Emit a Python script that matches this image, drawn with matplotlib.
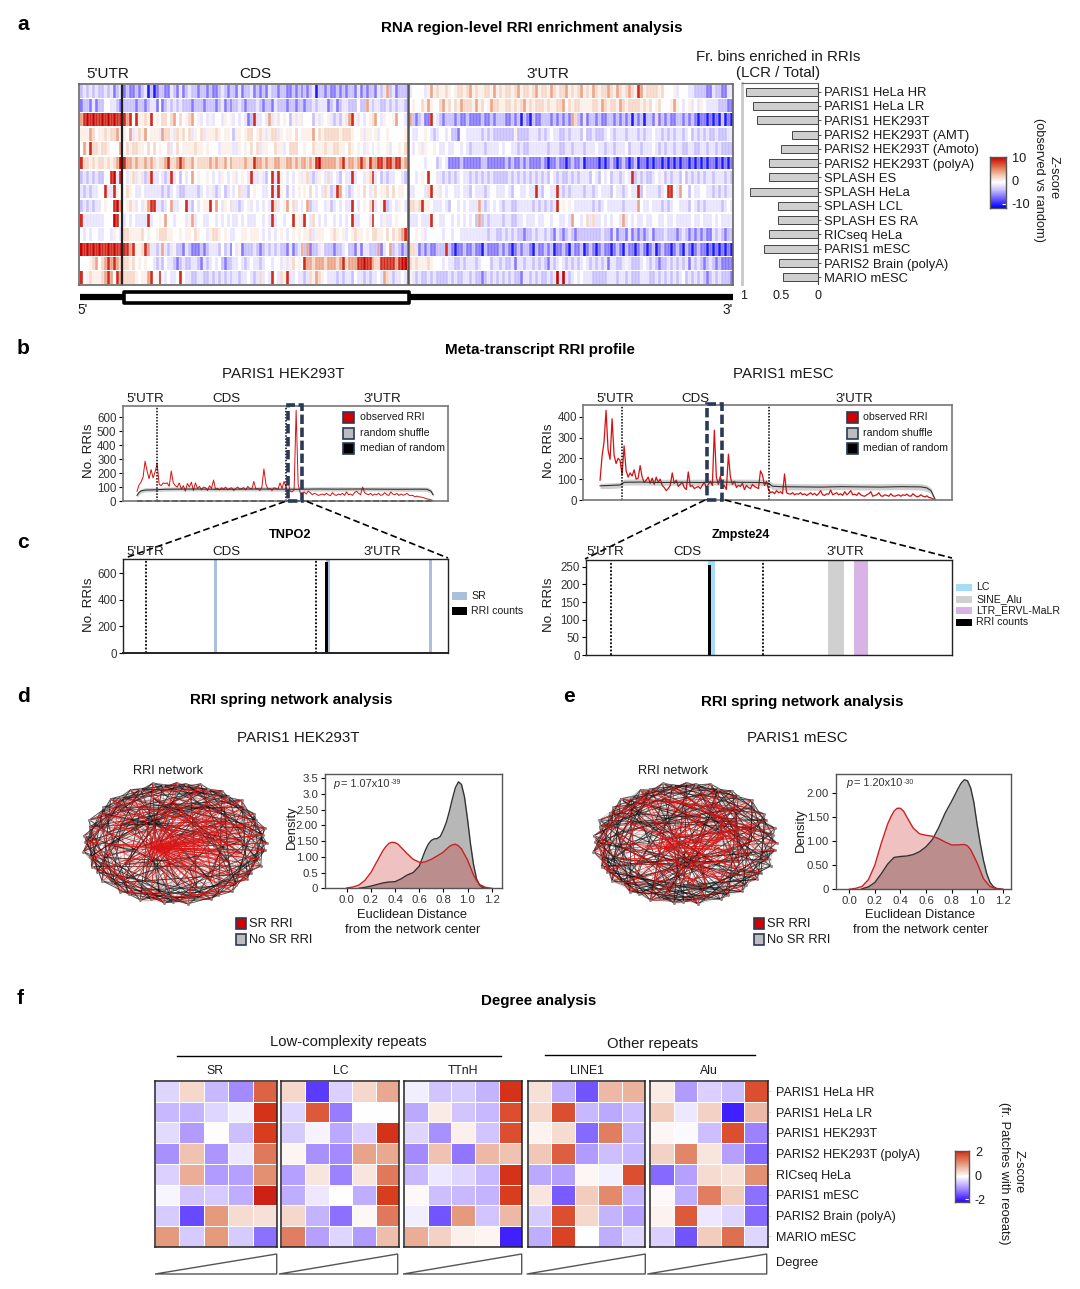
import numpy as np
import matplotlib
matplotlib.use("Agg")
import matplotlib.pyplot as plt
from matplotlib.colors import LinearSegmentedColormap, Normalize
from matplotlib.patches import Rectangle, Polygon

plt.rcParams['font.family'] = ['Liberation Sans', 'DejaVu Sans']
W, H = 1080, 1289
fig = plt.figure(figsize=(W/100, H/100), dpi=100, facecolor='white')

# ---------- data ----------
SAMPLES_A = ["PARIS1 HeLa HR","PARIS1 HeLa LR","PARIS1 HEK293T","PARIS2 HEK293T (AMT)","PARIS2 HEK293T (Amoto)",
             "PARIS2 HEK293T (polyA)","SPLASH ES","SPLASH HeLa","SPLASH LCL","SPLASH ES RA","RICseq HeLa",
             "PARIS1 mESC","PARIS2 Brain (polyA)","MARIO mESC"]
FR_BINS = [.97,.875,.83,.35,.5,.665,.665,.92,.54,.54,.66,.73,.53,.47]
# stripe levels: 0 strong blue ... 4 white ... 9 strong red
Z_LEVELS = [-9,-5.5,-3,-1.3,0,.8,2,4.2,8.5,10]
U5 = ["23232322323123","12213122443321","78989889898988","55576455656675","47586656654447","86656566565679",
      "23232322448938","32323344833854","23232334544897","83333333444984","43434433443543","98989898898988",
      "44456746787876","84565556787487"]
CDS = [
"1211212302 0122113213 1232212212 1123212213 1223121213 2212211212 1212302212 1121212213 1212213237 231222",
"2222122123 3141232323 2221222122 2123121223 2122232122 1322212212 2122323331 2312332224 2273233223 232332",
"8784855658 4546646746 4567453435 3443545343 4312833437 3534542535 3444253545 3232537853 4345674354 457443",
"5473565745 5537665365 6463546355 5654554255 4566456535 6635455464 5555746566 6665666544 5355453445 444445",
"4656655464 6454463464 5555655454 4435555335 4546463554 4655346664 4544655565 5665546545 4354345445 344546",
"8776766767 6566786678 7667566667 6766757666 6766877676 6776677676 7767689777 7767867767 8768778878 878867",
"4356353268 3343238342 4347454454 3435434534 5438335324 8385434345 3563235436 3432433834 4356834232 334432",
"4654334333 3332323432 2333323435 3234234346 3324544334 8385424345 4546434365 2387432345 4643564556 464554",
"4565343578 8332347334 4832434558 4743546332 3453434343 8634574634 3472334435 2343433843 4546834582 343543",
"3434333383 4454744344 4357344334 4343434334 3433344343 8344344845 3843643434 4343434833 4443844353 345444",
"6655556454 4566655445 4554654435 6654543344 5545554343 4345434545 4556355544 5654534565 5454665546 465678",
"8878556873 3237323522 1321112123 3324231435 1222321232 3232213123 7271223522 2122342213 1332227134 723212",
"6656454544 3232433212 3223321323 4342122334 3234332344 3443535645 4877677767 7767867778 8988766888 887899",
"6666545578 4584343348 4332233223 2323232332 3343236343 8436583343 3236576543 3323233243 3232334376 323343"]
U3 = [
"3444435756 5565456656 7565566575 6566567566 5675665765 6675656756 5765667657 6567658756 6665644453 4443322221 13221133",
"4544657544 6756465766 6575645766 5566565675 6566656556 6746566555 5665765665 7656666565 6456444575 4345343543 33322211",
"7212311843 2122212112 1111211212 2211212021 0211222121 2121762131 2212112212 1212021202 2161212112 2121210110 10102010",
"4334454323 4434221443 3333232322 2222252222 3332323433 2232333242 2322234323 3323332323 3433232323 3234232323 22322233",
"4345354454 3343344343 2333323333 4344332322 3333332333 2233233323 3343323323 3342333233 3432323323 3223322332 33232222",
"4444434442 3431111211 1111221111 1121211212 1111210112 1101211201 1110101210 1210120110 1011010101 0110101010 11010101",
"4434548443 3232323433 2323232322 2223232323 2323232432 3223232333 2432434233 2343823232 2343523233 2423232323 32333232",
"3344436845 3434433433 2433323443 3343244334 3383244338 3232333323 3234333243 3234338243 3332348843 7442433443 32323233",
"6656855433 3432443434 3337323434 3233223333 3232323238 4545433333 3232343333 3233337433 4333232344 3332432323 33332343",
"3334333844 3344343434 3427232333 3233223343 3343344344 3343744346 3633434344 3734343343 3443343343 3333433433 34343333",
"4454534444 4344344333 3333332332 2323232212 2323323213 2123212222 2222322131 2213121212 3122232221 2321212121 13232122",
"6631212112 2282101121 1211021111 2121012122 1021121201 1210211201 2101211012 1021101210 1201211012 1021012110 10101010",
"6565556544 4343322323 3323444233 2322313323 3232321323 4323232343 2323231332 2353222343 2321223232 3231323212 32121111",
"5323223232 2223232233 2322123232 3232322133 2323223239 3932343433 3222223332 3323222333 2232323232 3423232321 23232221"]

OBS_HEK = [70,115,135,170,285,215,160,225,165,210, 270,120,110,130,125,130,105,215,130,110,
 100,130,85,110,70,125,100,135,75,130, 90,105,80,100,95,75,110,90,150,85, 90,80,95,85,100,80,90,95,75,90,
 100,85,90,95,80,105,90,85,140,85, 90,75,100,230,120,85,90,75,95,90, 85,130,90,140,100,145,70,65,80,650,
 120,60,55,65,50,70,60,45,55,50, 40,45,50,42,55,45,38,60,45,40, 50,45,55,40,65,45,50,40,60,70,
 55,45,100,60,50,45,55,40,50,45, 55,40,45,60,45,40,65,50,45,55, 40,50,42,45,55,42,38,40,30,35, 30,28,25,20,15,12,8,4]
RAND_BINS_HEK = [0,1,2,4,8,14,20,30,40,50,60,70,80,90,100,110,120,130,140,144,146,147]
RAND_MED_HEK  = [40,62,72,78,80,84,85,86,84,85,86,85,84,86,85,86,85,84,85,84,70,45]
RAND_LO_HEK   = [25,45,58,65,66,70,72,72,70,72,72,70,70,72,71,72,72,70,70,68,55,30]
RAND_HI_HEK   = [50,75,88,96,98,100,102,100,102,100,103,102,100,102,103,100,102,102,100,100,85,55]
OBS_MESC = [95,210,280,430,240,195,390,215,175,200, 190,120,260,140,110,130,115,145,100,105,
 165,110,85,95,110,80,105,75,110,85, 100,70,60,45,55,70,130,80,95,65, 75,85,60,50,135,65,70,55,60,65,
 55,70,85,60,75,90,70,335,110,75, 115,60,70,50,220,110,75,90,60,70, 65,80,50,70,60,55,75,65,60,55,
 140,120,70,90,50,35,40,30,45,35, 40,30,125,35,30,28,35,25,30,28, 35,25,30,22,28,35,25,32,22,30,
 45,25,22,30,28,48,25,30,35,25, 30,22,40,25,32,45,25,28,22,35, 25,20,18,25,30,40,18,22,25,35,
 20,18,25,22,18,30,20,18,22,25, 18,25,22,28,20,18,30,22,15,18, 25,18,15,20,12,10,5,2]
RAND_BINS_MESC = [0,5,10,12,20,30,40,50,60,70,80,84,86,90,100,110,120,130,140,150,160,163,165,166,167]
RAND_MED_MESC  = [68,70,72,85,86,84,85,84,86,85,84,80,66,64,63,62,64,63,62,64,63,58,45,25,5]
RAND_LO_MESC   = [55,55,58,72,72,70,72,70,72,70,70,66,50,48,48,47,50,48,48,50,48,42,30,12,2]
RAND_HI_MESC   = [80,82,85,100,102,100,100,100,102,100,100,95,82,80,78,78,80,78,78,80,78,72,58,35,10]

NET_ANG = [0,8,14,23,29,38,44,53,59,68,74,83,89,98,104,113,119,128,134,143,149,158,164,173,179,188,194,203,209,218,224,233,239,248,254,263,269,278,284,293,299,308,314,323,329,338,344,353,
           3,18,33,47,62,78,92,108,122,138,152,167,183,197,213,228,242,258,272,288,302,318,332,347,
           10,40,70,100,135,165,195,225,255,290,320,345, 200]
NET_RAD = [.99,.96,1.0,.95,.98,.94,1.0,.96,.99,.95,1.0,.97,.98,.95,1.0,.96,.99,.94,1.0,.97,.95,1.0,.96,.99,.97,1.0,.95,.98,.96,1.0,.94,.99,.97,1.0,.95,.98,.96,1.0,.94,.99,.97,1.0,.95,.98,.96,1.0,.94,.98,
           .72,.8,.66,.78,.7,.82,.64,.76,.7,.8,.66,.75,.72,.8,.64,.78,.7,.82,.68,.76,.72,.8,.66,.74,
           .42,.3,.48,.36,.5,.28,.44,.38,.3,.46,.34,.5, .23]
BLACK_D = "0-6 0-11 0-50 1-8 1-13 1-52 2-7 2-17 2-44 3-10 3-15 3-54 4-12 4-9 4-47 5-14 5-19 5-49 6-13 6-22 6-56 7-15 7-11 7-58 8-18 8-14 8-25 9-16 9-21 9-60 10-17 10-26 10-53 11-20 11-16 11-62 12-19 12-30 13-22 13-18 13-64 14-24 14-20 14-33 15-23 15-28 15-66 16-25 16-21 16-68 17-26 17-36 18-24 18-29 18-70 19-27 19-32 20-30 20-25 20-48 21-28 21-39 22-31 22-27 22-50 23-29 23-35 23-42 24-33 24-30 24-52 25-34 25-38 26-32 26-37 26-54 27-36 27-45 28-35 28-40 28-56 29-37 29-33 30-39 30-44 30-58 31-38 31-42 32-41 32-36 32-60 33-43 33-47 34-40 34-46 34-62 35-44 35-39 36-45 36-2 36-64 37-46 37-41 38-47 38-5 38-66 39-0 39-44 40-1 40-8 40-68 41-3 41-47 42-4 42-10 42-70 43-6 43-2 44-7 44-14 45-9 45-1 46-12 46-4 47-11 47-20 48-55 48-63 49-58 49-71 50-61 50-66 51-57 51-69 52-64 52-60 53-59 53-67 54-62 54-70 55-65 55-71 56-68 56-63 57-72 58-74 59-76 60-78 61-80 62-82 63-73 64-75 65-77 66-79 67-81 68-83 69-72 70-74 71-76"
RED_D = "84-0 84-1 84-2 84-3 84-4 84-5 84-6 84-7 84-8 84-10 84-12 84-14 84-16 84-18 84-20 84-22 84-24 84-26 84-28 84-30 84-32 84-34 84-36 84-38 84-39 84-40 84-41 84-42 84-43 84-44 84-45 84-46 84-47 84-48 84-49 84-50 84-52 84-54 84-56 84-58 84-60 84-62 84-64 84-66 84-68 84-70 84-71 84-72 84-73 84-74 84-77 84-79 84-81 84-83 84-69 84-67 84-47 84-46 84-1 84-0 0-18 1-22 3-28 5-30 7-33 9-37 11-40 13-42 15-45 17-47 19-2 21-6 23-9 25-12 27-15 29-17 31-20 33-23 35-26 37-27 39-31 41-34 43-36 45-38 2-20 4-24 6-26 8-29 10-31 12-35 14-38 16-41 18-43 20-46 48-60 50-64 52-68 54-71 56-49 58-51 2-12 5-11 8-16 12-21 17-25 22-30 26-35 31-40 36-43 41-46 46-6"
BLACK_E = "0-9 0-15 0-51 1-6 1-18 1-55 2-11 2-14 2-46 3-8 3-20 3-58 4-13 4-17 4-44 5-10 5-22 5-60 6-16 6-12 6-48 7-14 7-24 7-63 8-19 8-13 8-52 9-17 9-27 9-66 10-21 10-15 10-50 11-18 11-30 11-70 12-23 12-20 12-54 13-19 13-33 13-57 14-26 14-22 14-36 15-25 15-29 15-61 16-28 16-24 16-39 17-27 17-31 17-65 18-29 18-25 18-42 19-31 19-28 19-69 20-32 20-27 20-45 21-30 21-37 21-49 22-34 22-29 22-53 23-33 23-40 23-56 24-35 24-31 24-43 25-37 25-32 25-59 26-36 26-44 26-62 27-38 27-33 27-46 28-40 28-35 28-64 29-39 29-47 29-67 30-41 30-36 30-1 31-43 31-38 31-71 32-42 32-3 32-48 33-45 33-39 33-6 34-44 34-41 34-51 35-46 35-9 35-54 36-47 36-42 36-12 37-0 37-45 37-57 38-2 38-15 39-4 39-47 39-60 40-7 40-18 41-5 41-1 41-63 42-8 42-21 43-10 43-3 43-66 44-11 44-24 45-13 45-6 46-16 46-9 47-14 47-27 48-56 48-66 49-60 49-68 50-62 50-70 51-59 51-64 52-65 52-71 53-61 53-69 54-67 54-48 55-63 55-73 57-75 58-77 59-79 61-81 62-83 64-72 65-74 67-76 68-78 70-80 71-82"
RED_E = "72-55 72-60 72-10 72-30 73-50 73-62 73-15 73-34 74-52 74-66 74-18 74-38 75-53 75-70 75-22 75-40 76-48 76-68 76-25 76-44 77-49 77-64 77-28 77-2 78-51 78-59 78-31 78-6 79-54 79-69 79-35 79-9 80-56 80-61 80-37 80-13 81-57 81-67 81-41 81-16 82-58 82-65 82-43 82-20 83-63 83-71 83-46 83-24 84-72 84-73 84-74 84-78 84-80 84-82 84-0 84-3 84-44 84-47 84-38 84-41 84-33 84-28 84-10 84-16 0-22 2-26 4-31 6-34 8-37 10-41 12-44 14-47 16-1 18-5 20-8 22-11 24-15 26-19 28-21 30-25 32-27 34-29 36-33 38-35 40-39 42-36 44-30 46-32 1-25 3-29 5-33 7-36 9-40 11-43 13-46 15-0 17-4 19-7 21-12 23-14 25-17 27-18 29-23 31-26 48-52 49-53 50-55 51-54 56-60 57-62 58-63 59-65 60-67 61-69 62-70 63-71 64-48 66-49 68-50 70-51"

KDE_D_GREY_X = [.1,.15,.2,.25,.3,.35,.4,.45,.5,.55,.6,.625,.65,.675,.7,.725,.75,.775,.8,.825,.85,.875,.9,.925,.95,.975,1.0,1.025,1.05,1.075,1.1,1.125,1.15]
KDE_D_GREY_Y = [0,.03,.07,.12,.17,.2,.21,.3,.42,.5,.7,.95,1.2,1.4,1.52,1.57,1.58,1.65,1.85,2.1,2.45,2.85,3.2,3.38,3.3,2.9,2.2,1.4,.75,.3,.1,.03,0]
KDE_D_RED_X = [0,.05,.1,.15,.2,.25,.3,.325,.35,.375,.4,.425,.45,.5,.55,.6,.625,.65,.7,.75,.8,.85,.875,.9,.925,.95,1.0,1.05,1.075,1.1,1.15,1.2]
KDE_D_RED_Y = [.01,.04,.1,.25,.5,.85,1.2,1.33,1.43,1.46,1.45,1.4,1.3,1.1,.92,.83,.82,.84,.92,1.03,1.15,1.33,1.38,1.4,1.35,1.25,.9,.42,.25,.12,.03,0]
KDE_E_GREY_X = [.1,.15,.2,.25,.3,.35,.4,.45,.5,.55,.6,.65,.7,.75,.8,.85,.875,.9,.925,.95,.975,1.0,1.025,1.05,1.075,1.1,1.125,1.15,1.2]
KDE_E_GREY_Y = [.01,.05,.14,.32,.52,.66,.68,.69,.72,.78,.88,1.03,1.28,1.58,1.82,2.08,2.2,2.27,2.25,2.1,1.8,1.35,.95,.6,.33,.15,.06,.02,0]
KDE_E_RED_X = [0,.05,.1,.15,.2,.25,.3,.325,.35,.375,.4,.425,.45,.5,.55,.6,.65,.7,.75,.8,.85,.9,.925,.95,1.0,1.05,1.1,1.15,1.2]
KDE_E_RED_Y = [0,.02,.06,.2,.5,.95,1.35,1.5,1.62,1.68,1.68,1.62,1.5,1.27,1.15,1.12,1.1,1.05,.98,.92,.92,.93,.9,.82,.55,.22,.06,.01,0]

SAMPLES_F = ["PARIS1 HeLa HR","PARIS1 HeLa LR","PARIS1 HEK293T","PARIS2 HEK293T (polyA)","RICseq HeLa","PARIS1 mESC","PARIS2 Brain (polyA)","MARIO mESC"]
F_SR = [[-.35,.4,-.6,-1.0,1.5],[-.6,-.65,-.35,-.15,1.9],[-.3,-.85,.03,-.55,1.85],[-.95,.6,-.9,-.2,1.3],
        [-.4,.8,-.85,-.8,1.1],[-.08,-.5,-.45,-.7,1.95],[-.45,-1.5,1.0,.35,.3],[1.0,-.45,1.0,-.45,-1.2]]
F_LC = [[.4,-1.6,-.4,.4,.85],[-.35,1.6,-1.1,0,0],[-.45,-.1,-.75,-.4,1.9],[.1,-.95,-1.0,.9,.85],
        [-.8,.25,-1.05,.25,1.3],[-.7,-.2,0,-.7,1.85],[.4,-.65,-1.2,.07,1.3],[1.25,-.8,-.35,-.85,.65]]
F_TT = [[-.15,-.5,-.45,-.65,1.9],[-.75,.2,-.5,-.6,1.7],[-.35,-.95,.15,-.5,1.7],[-1.0,.6,-1.15,.7,.6],
        [-.6,-.2,-.35,-.6,1.9],[.05,-.55,-.6,-.65,1.85],[-.15,-1.4,1.0,-.5,.7],[.8,.45,.15,.1,-1.8]]
F_L1 = [[.3,-.7,-1.4,.7,.75],[.4,1.7,-.6,-.75,-.55],[.12,.35,-1.25,1.25,-.6],[.55,1.55,-.85,-.55,-.6],
        [-.75,-.8,.08,-.12,1.7],[.25,-1.35,.5,1.15,-.65],[-.45,1.7,.4,-.65,-.8],[-.7,1.8,0,-.7,-.35]]
F_AL = [[.2,-.85,-.4,-.55,1.7],[.5,-.2,.45,-1.8,.7],[.08,-.05,-.55,1.7,-1.05],[.45,1.2,.25,-.8,-1.25],
        [-1.25,-.8,.35,.3,1.1],[.05,-.7,1.25,.5,-1.2],[.12,1.6,-.2,-.35,-1.25],[-.4,-1.4,.5,1.4,-.35]]

# ---------- helpers ----------
TXT = '#1a1a1a'
def ax_px(l, t, r, b, **kw):
    return fig.add_axes([l/W, 1-b/H, (r-l)/W, (b-t)/H], **kw)

ov = fig.add_axes([0, 0, 1, 1], zorder=50)
ov.set_xlim(0, W); ov.set_ylim(H, 0); ov.axis('off'); ov.patch.set_alpha(0)

def T(x, y, s, size=9.2, ha='center', va='center', **kw):
    kw.setdefault('color', TXT)
    return ov.text(x, y, s, fontsize=size, ha=ha, va=va, **kw)

cm_a = LinearSegmentedColormap.from_list('za', [(0,'#0000ff'),(.2,'#7a6aff'),(.35,'#c9c0ff'),(.5,'#ffffff'),(.65,'#f3c4ac'),(.8,'#e2724e'),(1,'#c80000')])
cm_f = LinearSegmentedColormap.from_list('zf', [(0,'#2a08ff'),(.25,'#a48aff'),(.5,'#ffffff'),(.75,'#e59a7e'),(.97,'#d83c1c'),(1,'#c81010')])

def cbar(l, t, r, b, cmap, vmin, vmax, top, ticks, labels, fs=9.2):
    a = ax_px(l, t, r, b)
    g = np.linspace(vmin, top, 128)[:, None]
    a.pcolormesh([0, 1], np.linspace(vmin, top, 129), g, cmap=cmap, norm=Normalize(vmin, vmax))
    a.set_xticks([])
    a.yaxis.tick_right()
    a.set_yticks(ticks); a.set_yticklabels(labels, fontsize=fs, color=TXT)
    a.tick_params(axis='y', direction='in', color='white', length=3, pad=4)
    for s in a.spines.values():
        s.set_color('#555'); s.set_linewidth(1)
    return a

# ---------- panel a ----------
T(23, 25, 'a', 15, fontweight='bold', color='black')
T(532, 28, 'RNA region-level RRI enrichment analysis', 10.9, fontweight='bold', color='black')
T(108, 74, "5'UTR", 11); T(255, 74, 'CDS', 11); T(548, 74, "3'UTR", 11)
T(778, 57, 'Fr. bins enriched in RRIs', 10.8); T(778, 73, '(LCR / Total)', 10.8)

hm = ax_px(79, 84, 733, 285)
hm.set_xlim(0, 654); hm.set_ylim(14, 0); hm.set_xticks([]); hm.set_yticks([])
norm_a = Normalize(-10, 10)
SEC = [(0.8, 42.5), (44, 328), (329.5, 654)]
for r in range(14):
    for (x0, x1), src in zip(SEC, (U5, CDS, U3)):
        s = src[r].replace(' ', '')
        vals = np.array([Z_LEVELS[int(c)] for c in s], float)[None, :]
        e = np.linspace(x0, x1, len(s)+1)
        hm.pcolormesh(e, [r+.05, r+.95], vals, cmap=cm_a, norm=norm_a, edgecolors='none', linewidth=0, antialiased=False)
        hm.vlines(e[1:-1], r+.05, r+.95, color='white', lw=.35, alpha=.7)
for s in hm.spines.values():
    s.set_color('#666'); s.set_linewidth(1.2)
hm.axvline(43, color='#222', lw=1.6); hm.axvline(328.8, color='#555', lw=1.8)

br = ax_px(742, 83, 818, 284)
br.set_xlim(1.027, 0); br.set_ylim(13.47, -.61)
br.barh(range(14), FR_BINS, height=.56, color='#cfcfcf', edgecolor='#444', linewidth=.7)
br.yaxis.tick_right()
br.set_yticks(range(14)); br.set_yticklabels(SAMPLES_A, fontsize=9.4, color=TXT)
br.set_xticks([1, .5, 0]); br.set_xticklabels(['1', '0.5', '0'], fontsize=9, color=TXT)
br.tick_params(axis='x', length=0, pad=4)
br.tick_params(axis='y', length=2, pad=2.5, color='#555', width=.7)
br.spines['bottom'].set_visible(False)
br.spines['left'].set_color('#c8c8c8'); br.spines['left'].set_linewidth(2)
br.spines['right'].set_color('#444'); br.spines['top'].set_color('#666')

cbar(990, 157, 1006, 207.7, cm_a, -11.6, 10, 10, [-10, 0, 10], ['-10', '0', '10'])
T(1054, 178, 'Z-score', 9.2, rotation=270)
T(1039, 180, '(observed vs random)', 9.2, rotation=270)

ov.plot([80, 733], [297, 297], color='black', lw=4.5, solid_capstyle='butt', zorder=1)
ov.add_patch(Rectangle((124, 292), 285, 11, facecolor='white', edgecolor='black', lw=2.6, zorder=2, joinstyle='round'))
T(83, 310, "5'", 9.8); T(728, 310, "3'", 9.8)

# ---------- panels b / c ----------
T(23, 348, 'b', 15, fontweight='bold', color='black')
T(540, 350, 'Meta-transcript RRI profile', 10.9, fontweight='bold', color='black')
T(283, 374, 'PARIS1 HEK293T', 10.9); T(783, 374, 'PARIS1 mESC', 10.9)
T(23, 543, 'c', 15, fontweight='bold', color='black')
for x, s in ((145, "5'UTR"), (226, 'CDS'), (382, "3'UTR"), (615, "5'UTR"), (695, 'CDS'), (854, "3'UTR")):
    T(x, 399, s, 9.6)
for x, s in ((145, "5'UTR"), (226, 'CDS'), (382, "3'UTR"), (605, "5'UTR"), (687, 'CDS'), (845, "3'UTR")):
    T(x, 552, s, 9.6)
T(290, 535, 'TNPO2', 9.2, fontweight='bold', color='black')
T(741, 535, 'Zmpste24', 9, fontweight='bold', color='black')
for x, y in ((89, 451), (549, 451), (89, 605), (549, 605)):
    T(x, y, 'No. RRIs', 9.6, rotation=90)

NAVY = '#2a3a58'
def meta(box, xlim, ylim, yt, obs, rb, rm, rl, rh, vl, rect, lw_obs):
    a = ax_px(*box)
    a.set_xlim(*xlim); a.set_ylim(*ylim)
    a.fill_between(rb, rl, rh, color='#cacaca', lw=0, alpha=.9)
    a.plot(range(len(obs)), obs, color='#d81010', lw=lw_obs)
    a.plot(rb, rm, color='#333', lw=.8)
    for v in vl:
        a.axvline(v, color='black', lw=1.1, ls=(0, (1, 1)))
    a.add_patch(Rectangle((rect[0], 0), rect[1]-rect[0], ylim[1]*1.01, fill=False, edgecolor=NAVY, lw=2.6,
                          ls=(0, (2.6, 1)), clip_on=False, zorder=6))
    a.set_xticks([]); a.set_yticks(yt)
    a.tick_params(axis='y', labelsize=8.3, labelcolor='#333', length=3, pad=1.5, width=.8)
    for s in a.spines.values():
        s.set_color('#777'); s.set_linewidth(1.2)
    return a

b1 = meta((122.7, 406, 448, 501), (-7.1, 154.4), (0, 681), [0, 100, 200, 300, 400, 500, 600], OBS_HEK,
          RAND_BINS_HEK, RAND_MED_HEK, RAND_LO_HEK, RAND_HI_HEK, [9.9, 74], (75, 82), .7)
b1.plot([0, 147], [0, 0], color='black', lw=1.4, ls=(0, (3, 1.5)), clip_on=False)
b2 = meta((583, 405, 952, 500), (-8.5, 175.5), (0, 456), [0, 100, 200, 300, 400], OBS_MESC,
          RAND_BINS_MESC, RAND_MED_MESC, RAND_LO_MESC, RAND_HI_MESC, [11, 84.2], (53.3, 60.8), .9)

def swatch(x, y, w, h, c, ec=NAVY, lw=1.2):
    ov.add_patch(Rectangle((x, y-h/2), w, h, facecolor=c, edgecolor=ec, lw=lw))
for x, tx in ((343, 360), (847, 863)):
    for y, c, s in ((417, '#d40000', 'observed RRI'), (433, '#bcbcbc', 'random shuffle'), (448, 'black', 'median of random')):
        swatch(x, y, 11, 11, c)
        T(tx, y, s, 7.6, ha='left')

def gene(box, ylim, yt, vl, bands, bar, dotted_bottom=False):
    a = ax_px(*box)
    a.set_xlim(0, 100); a.set_ylim(*ylim)
    for x0, x1, c in bands:
        a.axvspan(x0, x1, color=c, lw=0)
    a.bar([(bar[0]+bar[1])/2], [bar[2]], width=bar[1]-bar[0], color='black')
    for v in vl:
        a.axvline(v, color='black', lw=1.3, ls=(0, (1, 1)))
    a.set_xticks([]); a.set_yticks(yt)
    a.tick_params(axis='y', labelsize=8.3, labelcolor='#333', length=3, pad=1.5, width=.8)
    for s in a.spines.values():
        s.set_color('#222'); s.set_linewidth(1)
    if dotted_bottom:
        a.spines['bottom'].set_linestyle((0, (1, 1)))
        a.spines['bottom'].set_linewidth(1.4)
    return a

SR_C, LC_C, SINE_C, LTR_C = '#a9bfdc', '#a6dcf9', '#d0d0d0', '#d9b3e6'
gene((123.3, 559, 448, 653), (0, 705), [0, 200, 400, 600], [7, 59.3],
     [(27.9, 28.8, SR_C), (62.5, 63.7, SR_C), (94.2, 95.2, SR_C)], (62.1, 62.9, 680), True)
gene((586, 560, 952, 655), (0, 269), [0, 50, 100, 150, 200, 250], [6.8, 48.3],
     [(33.4, 35.3, LC_C), (66.1, 70.5, SINE_C), (73.3, 77.1, LTR_C)], (33.2, 34.2, 255))

for (x0, y0, x1, y1) in ((285, 501.5, 125, 558), (307, 501.5, 448, 558), (705, 500, 585, 559), (725, 500, 952, 558)):
    ov.plot([x0, x1], [y0, y1], color='black', lw=1.2, ls=(0, (4, 2)))

for y, c, s in ((596, SR_C, 'SR'), (611, 'black', 'RRI counts')):
    swatch(452, y, 15, 8, c, ec='none', lw=0)
    T(471, y, s, 7.6, ha='left')
for y, c, s in ((587, LC_C, 'LC'), (599, SINE_C, 'SINE_Alu'), (610, LTR_C, 'LTR_ERVL-MaLR'), (622, 'black', 'RRI counts')):
    swatch(956, y, 16, 7, c, ec='none', lw=0)
    T(976, y, s, 7.6, ha='left')

# ---------- panels d / e ----------
T(23, 696, 'd', 15, fontweight='bold', color='black')
T(569, 697, 'e', 15, fontweight='bold', color='black')
T(291, 700, 'RRI spring network analysis', 10.9, fontweight='bold', color='black')
T(802, 702, 'RRI spring network analysis', 10.9, fontweight='bold', color='black')
T(298, 738, 'PARIS1 HEK293T', 10.9); T(797, 738, 'PARIS1 mESC', 10.9)
T(168, 771, 'RRI network', 9.2); T(673, 771, 'RRI network', 9.2)

nx = np.array(NET_RAD) * np.cos(np.radians(NET_ANG))
ny = np.array(NET_RAD) * np.sin(np.radians(NET_ANG))

def edges(s, c, lw, alpha, z, a, only=None):
    for e in s.split():
        hub = e.startswith('84-')
        if only == 'nohub' and hub:
            continue
        if only == 'hub' and not hub:
            continue
        i, j = map(int, e.split('-'))
        a.plot([nx[i], nx[j]], [ny[i], ny[j]], color=c, lw=lw, alpha=alpha, zorder=z, solid_capstyle='round')

def network(cx, cy, black, red, black2, red2):
    a = ax_px(cx-97, cy-65, cx+97, cy+65)
    a.set_xlim(-97/92.5, 97/92.5); a.set_ylim(-65/61.5, 65/61.5); a.axis('off')
    edges(black2, '#777777', .45, .4, 1, a, 'nohub')
    edges(red2, '#e05050', .5, .6, 1.5, a, 'nohub')
    edges(black, '#151515', .7, .7, 3, a)
    edges(red, '#dc1414', .65, .9, 6, a, 'hub')
    edges(red, '#d81414', .55, .8, 4, a, 'nohub')
    a.scatter(nx[:48], ny[:48], s=5, color='#8a8a8a', lw=0, zorder=5)
network(175, 843, BLACK_D, RED_D, BLACK_E, RED_E)
network(685, 843, BLACK_E, RED_E, BLACK_D, RED_D)

def kde(box, xlim, ylim, yt, ylab, gx, gy, rx, ry):
    a = ax_px(*box)
    a.set_xlim(*xlim); a.set_ylim(*ylim)
    a.fill_between(gx, 0, gy, color='#7d7d7d', alpha=.55, lw=0)
    a.plot(gx, gy, color='#333', lw=1)
    a.fill_between(rx, 0, ry, color='#cc2222', alpha=.28, lw=0)
    a.plot(rx, ry, color='#cc2020', lw=1)
    a.set_xticks([0, .2, .4, .6, .8, 1, 1.2]); a.set_xticklabels(['0.0','0.2','0.4','0.6','0.8','1.0','1.2'])
    a.set_yticks(yt); a.set_yticklabels(ylab)
    a.tick_params(labelsize=8.2, labelcolor='#333', length=3, pad=2, width=.8)
    for s in a.spines.values():
        s.set_color('#555'); s.set_linewidth(1)
    return a

kde((325, 774.3, 501.7, 888.3), (-.18, 1.283), (0, 3.62), [0, .5, 1, 1.5, 2, 2.5, 3, 3.5],
    ['0', '0.5', '1.00', '1.50', '2.00', '2.50', '3.0', '3.5'], KDE_D_GREY_X, KDE_D_GREY_Y, KDE_D_RED_X, KDE_D_RED_Y)
kde((835.7, 774, 1010.7, 889.3), (-.106, 1.263), (0, 2.39), [0, .5, 1, 1.5, 2],
    ['0', '0.50', '1.00', '1.50', '2.00'], KDE_E_GREY_X, KDE_E_GREY_Y, KDE_E_RED_X, KDE_E_RED_Y)

T(292, 827, 'Density', 9.4, rotation=90); T(801, 830, 'Density', 9.4, rotation=90)
T(333, 784, 'p', 7.9, ha='left', color='#333', style='italic')
T(341, 784, '= 1.07x10', 7.9, ha='left', color='#333'); T(391, 783, '-39', 5, ha='left', color='#333')
T(846, 783, 'p', 7.9, ha='left', color='#333', style='italic')
T(854, 783, '= 1.20x10', 7.9, ha='left', color='#333'); T(904, 782, '-30', 5, ha='left', color='#333')
for cx in (413, 921):
    T(cx-1, 915, 'Euclidean Distance', 9.3)
    T(cx, 930, 'from the network center', 9.3)
for sx, tx in ((236, 249), (754, 767)):
    swatch(sx, 923, 10, 11, '#d40000')
    T(tx, 924, 'SR RRI', 9.3, ha='left')
    swatch(sx, 939, 10, 11, '#bcbcbc')
    T(tx, 940, 'No SR RRI', 9.3, ha='left')

# ---------- panel f ----------
T(20, 999, 'f', 15, fontweight='bold', color='black')
T(539, 1001, 'Degree analysis', 10.9, fontweight='bold', color='black')
T(348, 1042, 'Low-complexity repeats', 10.75); T(653, 1044, 'Other repeats', 10.75)
ov.plot([177, 501], [1056, 1056], color='black', lw=1)
ov.plot([545, 755], [1055, 1055], color='black', lw=1)

norm_f = Normalize(-2, 2)
panels = (('SR', F_SR, 155, 277, 155, 276.7), ('LC', F_LC, 281.3, 399.5, 279, 397.7), ('TTnH', F_TT, 404, 522.3, 403, 521.7),
          ('LINE1', F_L1, 528, 645, 526.7, 645.3), ('Alu', F_AL, 650.3, 767.6, 647.3, 766.7))
for i, (name, arr, l, r, tl, tr) in enumerate(panels):
    a = ax_px(l, 1081, r, 1246.7)
    a.pcolormesh(np.arange(6), np.arange(9), np.array(arr), cmap=cm_f, norm=norm_f, edgecolors='white', linewidth=.7)
    a.set_xlim(0, 5); a.set_ylim(8, 0); a.set_xticks([])
    a.set_yticks([])
    for s in a.spines.values():
        s.set_color('#222'); s.set_linewidth(1.1)
    T((l+r)/2 + (-1 if i == 0 else 0), 1071, name, 8.8)
    ov.add_patch(Polygon([(tl, 1274), (tr, 1254), (tr, 1274)], closed=True, facecolor='white', edgecolor='#555', lw=1))
    if name == 'Alu':
        a.yaxis.tick_right()
        a.set_yticks(np.arange(8)+.5); a.set_yticklabels(SAMPLES_F, fontsize=9, color=TXT)
        a.tick_params(axis='y', length=2, pad=4, color='#e8d8c8', width=.7)
T(776, 1263, 'Degree', 9.3, ha='left')

cbar(955, 1151, 969.3, 1202, cm_f, -2.25, 2, 2, [-2, 0, 2], ['-2', '0', '2'], 9)
T(1019, 1172, 'Z-score', 9.2, rotation=270)
T(1004, 1173, '(fr. Patches with reoeats)', 9.3, rotation=270)

fig.savefig('out.png', dpi=100, facecolor='white')
